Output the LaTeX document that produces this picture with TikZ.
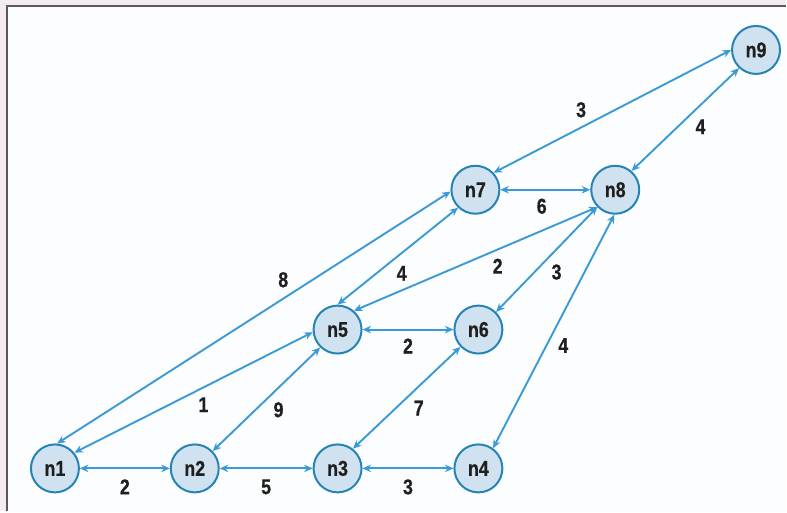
\documentclass[tikz,border=0pt]{standalone}
\usepackage{fontspec}
\setmainfont{Liberation Sans}[FakeStretch=0.83, FakeBold=0.6]
\usepackage{xcolor}
\usetikzlibrary{arrows.meta, positioning}
\definecolor{nodefill}{HTML}{D0E2F0}
\definecolor{nodeline}{HTML}{2683B6}
\definecolor{edgeblue}{HTML}{3A9AD5}
\definecolor{framepink}{HTML}{F4EAF1}
\definecolor{paper}{HTML}{FCFDFF}
\tikzstyle{arr} = [draw=edgeblue, line width=1.9pt,
        {Stealth[length=8.5pt,width=7.5pt]}-{Stealth[length=8.5pt,width=7.5pt]}]

\begin{document}
\begin{tikzpicture}[
        x=1pt, y=1pt,
        on grid, node distance=140pt,
        every node/.style={font=\bfseries\fontsize{21.5}{24}\selectfont, text=black!88},
        vertex/.style={circle, draw=nodeline, fill=nodefill, line width=2pt,
            minimum size=48pt, inner sep=0pt},
        wt/.style={inner sep=4pt}
    ]
    % frame
    \fill[framepink] (0,0) rectangle (787,512);
    \fill[paper] (7,0) rectangle (787,506);
    \draw[black!65, line width=2pt] (7,0) |- (787,506);

    \node (n1) [vertex] at (55,43)                   {n1};
    \node (n2) [vertex, right=of n1]                 {n2};
    \node (n3) [vertex, right=143pt of n2]           {n3};
    \node (n4) [vertex, right=141pt of n3]           {n4};
    \node (n5) [vertex, above=139pt of n3]           {n5};
    \node (n6) [vertex, right=141pt of n5]           {n6};
    \node (n7) [vertex, above left=140pt and 3pt of n6] {n7};
    \node (n8) [vertex, right=of n7]                 {n8};
    \node (n9) [vertex, above right=140pt and 141pt of n8] {n9};

    \draw [arr] (n1) -- node[wt, below=6pt]{2} (n2);
    \draw [arr] (n2) -- node[wt, below=6pt]{5} (n3);
    \draw [arr] (n3) -- node[wt, below=6pt]{3} (n4);
    \draw [arr] (n5) -- node[wt, below=4pt]{2} (n6);
    \draw [arr] (n7) -- node[wt, below=4pt, pos=0.46]{6} (n8);
    \draw [arr] (n1.39) -- node[wt, below right, pos=0.5]{1} (n5.186);
    \draw [arr] (n1.85) -- node[wt, above left, pos=0.6]{8} (n7.184);
    \draw [arr] (n2.44) -- node[wt, below right, pos=0.52]{9} (n5.226);
    \draw [arr] (n3.52) -- node[wt, below right, pos=0.52]{7} (n6.224);
    \draw [arr] (n5.90) -- node[wt, below right, pos=0.45]{4} (n7.226);
    \draw [arr] (n5.49) -- node[wt, below right, pos=0.55]{2} (n8.224);
    \draw [arr] (n6.45) -- node[wt, below right, pos=0.5]{3} (n8.224);
    \draw [arr] (n4.54) -- node[wt, right=7pt, pos=0.44]{4} (n8.268);
    \draw [arr] (n7.43) -- node[wt, above left, pos=0.41]{3} (n9.180);
    \draw [arr] (n8.49) -- node[wt, below right, pos=0.55]{4} (n9.227);
\end{tikzpicture}
\end{document}
